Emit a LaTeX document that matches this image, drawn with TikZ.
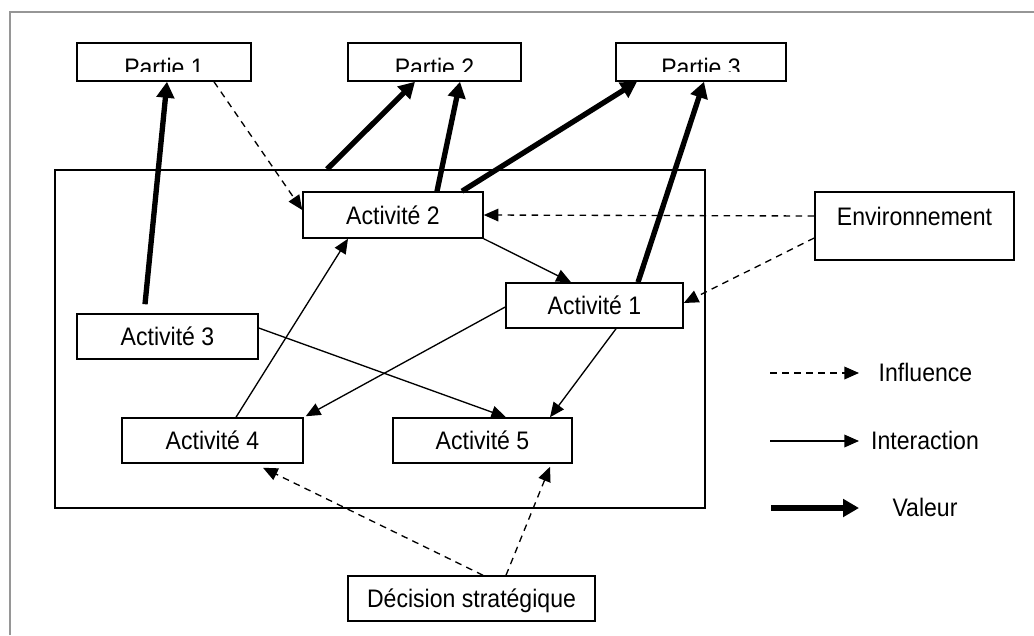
\documentclass[tikz,border=0pt]{standalone}
\usepackage{fontspec}
\setmainfont{Liberation Sans}[FakeStretch=0.91]
\usetikzlibrary{arrows.meta,calc}
\definecolor{framegray}{RGB}{150,150,150}
\begin{document}
\begin{tikzpicture}[x=0.75pt,y=-0.75pt,
  box/.style={draw,line width=1.15pt,inner sep=0pt,font=\fontsize{19}{22}\selectfont,text height=13.5pt,text depth=0pt},
  txt/.style={inner sep=0pt,font=\fontsize{19}{22}\selectfont,anchor=base},
  valeur/.style={line width=4pt,-{Triangle[length=12pt,width=13pt]}},
  inter/.style={line width=1pt,-{Triangle[length=11pt,width=9.5pt]}},
  influ/.style={line width=1pt,dash pattern=on 5pt off 4pt,-{Triangle[length=11pt,width=9.5pt]}},
]
\useasboundingbox (0,0) rectangle (1034,635);
% outer frame
\draw[line width=1.3pt,framegray] (10,635) -- (10,12) -- (1034,12);

% system rectangle
\node[draw,line width=1.15pt,inner sep=0pt,minimum width=487.5pt,minimum height=253.5pt] (sys) at (380,339) {};

% Parties
\node[box,minimum width=130.5pt,minimum height=28.5pt] (p1) at (164,62) {};
\node[box,minimum width=129.75pt,minimum height=28.5pt] (p2) at (434.5,62) {};
\node[box,minimum width=127.5pt,minimum height=28.5pt] (p3) at (701,62) {};
\begin{scope}
\clip (77,43) rectangle (251,72);
\node[txt] (p1t) at (164,76) {Partie 1};
\end{scope}
\begin{scope}
\clip (348,43) rectangle (521,72);
\node[txt] (p2t) at (434.5,76) {Partie 2};
\end{scope}
\begin{scope}
\clip (616,43) rectangle (786,72);
\node[txt] (p3t) at (701,76) {Partie 3};
\end{scope}

% Activities
\node[box,minimum width=135pt,minimum height=34.5pt] (a2) at (393,215) {Activité 2};
\node[box,minimum width=132.75pt,minimum height=33.75pt] (a1) at (594.5,305.5) {Activité 1};
\node[box,minimum width=135.75pt,minimum height=33.75pt] (a3) at (167.5,336.5) {Activité 3};
\node[box,minimum width=135.75pt,minimum height=33.75pt] (a4) at (212.5,440.5) {Activité 4};
\node[box,minimum width=134.25pt,minimum height=33.75pt] (a5) at (482.5,440.5) {Activité 5};
\node[box,minimum width=185.25pt,minimum height=33.75pt] (dec) at (471.5,598.5) {Décision stratégique};

% Environnement
\node[box,minimum width=149.25pt,minimum height=51pt] (env) at (914.5,226) {};
\node[txt] (envt) at (914.5,225) {Environnement};

% Valeur arrows
\draw[valeur] ($(a3.north)+(-22.5,-9)$) -- ($(p1.south)+(3,0)$);
\draw[valeur] ($(sys.north)+(-53,0)$) -- ($(p2.south)+(-19.5,0)$);
\draw[valeur] ($(a2.north)+(44,0)$) -- ($(p2.south)+(25.5,0)$);
\draw[valeur] ($(a2.north)+(69,0)$) -- ($(p3.south)+(-64,0)$);
\draw[valeur] ($(a1.north)+(43.5,0)$) -- ($(p3.south)+(3,0)$);

% Influence arrows
\draw[influ] ($(p1.south)+(50,0)$) -- ($(a2.west)+(0,-5)$);
\draw[influ] ($(env.west)+(0,-10)$) -- (a2.east);
\draw[influ] ($(env.west)+(0,12)$) -- ($(a1.east)+(0,-2.5)$);
\draw[influ] ($(dec.north)+(11.5,0)$) -- ($(a4.south)+(50.5,4)$);
\draw[influ] ($(dec.north)+(34.5,0)$) -- ($(a5.south)+(67.5,3)$);

% Interaction arrows
\draw[inter] (a2.south east) -- ($(a1.north)+(-23.5,0)$);
\draw[inter] ($(a1.west)+(0,1.5)$) -- ($(a4.north east)+(2,-1)$);
\draw[inter] ($(a3.east)+(0,-8.5)$) -- ($(a5.north)+(23.5,0)$);
\draw[inter] ($(a4.north)+(23.5,0)$) -- ($(a2.south)+(-45,0)$);
\draw[inter] ($(a1.south)+(21.5,0)$) -- ($(a5.north)+(67.5,0)$);

% Legend
\coordinate (l1s) at (770,373); \coordinate (l1e) at (859,373);
\coordinate (l2s) at (770,441); \coordinate (l2e) at (859,441);
\coordinate (l3s) at (771,508); \coordinate (l3e) at (859,508);
\draw[influ] (l1s) -- (l1e);
\draw[inter] (l2s) -- (l2e);
\draw[valeur] (l3s) -- (l3e);
\node[txt] (linf) at (925.5,381.7) {Influence};
\node[txt] (lint) at (925,449) {Interaction};
\node[txt] (lval) at (925,516.7) {Valeur};
\end{tikzpicture}
\end{document}
